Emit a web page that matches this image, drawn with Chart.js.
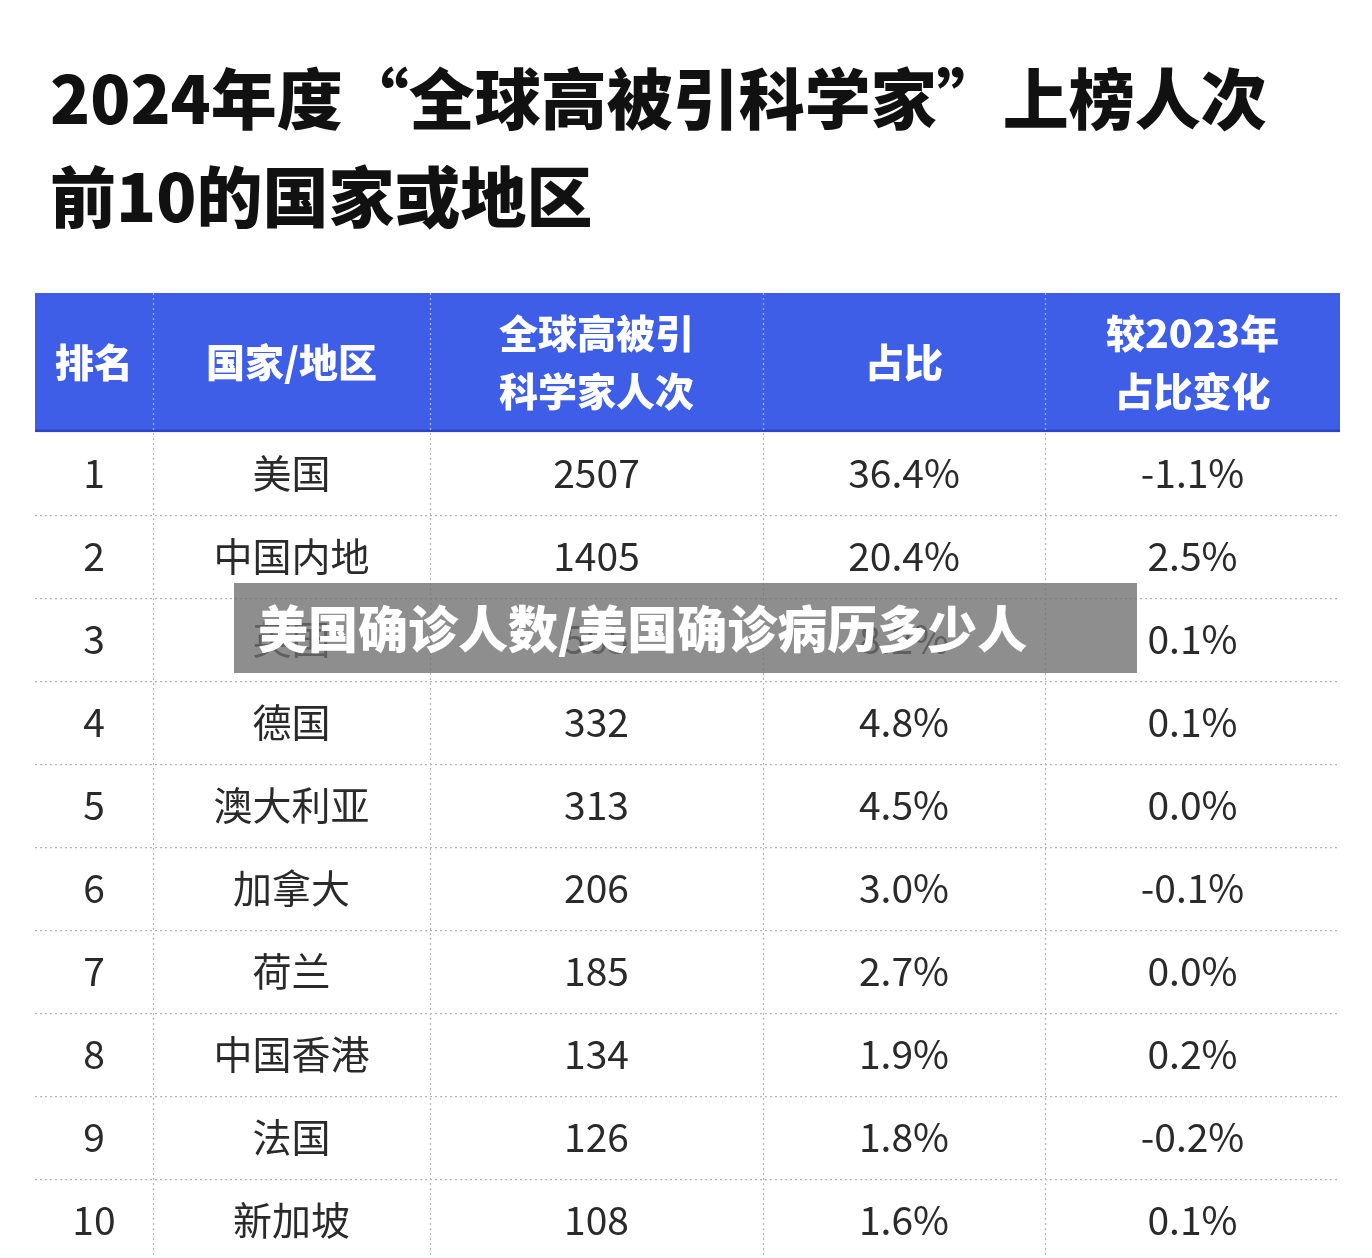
<!DOCTYPE html>
<html>
<head>
<meta charset="utf-8">
<script src="https://cdn.jsdelivr.net/npm/chart.js@4"></script>
<style>
body { margin: 0; background: #fff; width: 1372px; height: 1258px; overflow: hidden; position: relative; font-family: "Noto Sans CJK SC", sans-serif; }
.title { position: absolute; left: 50px; top: 46px; font-size: 66px; font-weight: 900; color: #111; line-height: 98px; letter-spacing: 0px; }
#wrap { position: absolute; left: 35px; top: 293px; width: 1305px; height: 965px; }
.banner { position: absolute; left: 234px; top: 583px; width: 903px; height: 90px; background: rgba(110,110,110,0.78);
  color: #fff; font-size: 50px; font-weight: 900; line-height: 86px; padding-left: 24px; box-sizing: border-box; }
</style>
</head>
<body>
<div class="title">2024年度“全球高被引科学家”上榜人次<br>前10的国家或地区</div>
<div id="wrap"><canvas id="tbl"></canvas></div>
<div class="banner">美国确诊人数/美国确诊病历多少人</div>
<script>
// Table data
const headers = [['排名'], ['国家/地区'], ['全球高被引', '科学家人次'], ['占比'], ['较2023年', '占比变化']];
const ranks = ['1', '2', '3', '4', '5', '6', '7', '8', '9', '10'];
const regions = ['美国', '中国内地', '英国', '德国', '澳大利亚', '加拿大', '荷兰', '中国香港', '法国', '新加坡'];
const counts = [2507, 1405, 565, 332, 313, 206, 185, 134, 126, 108];
const shares = ['36.4%', '20.4%', '8.2%', '4.8%', '4.5%', '3.0%', '2.7%', '1.9%', '1.8%', '1.6%'];
const changes = ['-1.1%', '2.5%', '0.1%', '0.1%', '0.0%', '-0.1%', '0.0%', '0.2%', '-0.2%', '0.1%'];

// Layout (column widths in x-scale units, header height in row units)
const colWidths = [118, 277, 333, 282, 295];
const headerRows = 1.675;

const colEdges = [0];
colWidths.forEach(w => colEdges.push(colEdges[colEdges.length - 1] + w));

const tablePlugin = {
    id: 'tablePlugin',
    afterDraw(chart) {
        const ctx = chart.ctx;
        const xs = chart.scales.x, ys = chart.scales.y;
        const X = v => xs.getPixelForValue(v);
        const Y = v => ys.getPixelForValue(v);
        const columns = [ranks, regions, counts.map(String), shares, changes];
        ctx.save();
        // header
        ctx.fillStyle = '#3f5ee8';
        ctx.fillRect(X(0), Y(-headerRows), X(colEdges[5]) - X(0), Y(0) - Y(-headerRows));
        ctx.fillStyle = '#2c47c4';
        ctx.fillRect(X(0), Y(-0.03), X(colEdges[5]) - X(0), Y(0) - Y(-0.03));
        ctx.textAlign = 'center';
        ctx.textBaseline = 'middle';
        ctx.fillStyle = '#fff';
        ctx.font = '900 39px "Noto Sans CJK SC"';
        headers.forEach((lines, c) => {
            const cx = (X(colEdges[c]) + X(colEdges[c + 1])) / 2;
            const cy = Y(-headerRows / 2);
            lines.forEach((t, i) => ctx.fillText(t, cx, cy + (i - (lines.length - 1) / 2) * 58));
        });
        // dotted grid
        ctx.strokeStyle = '#b5b5b5';
        ctx.lineWidth = 1.2;
        ctx.setLineDash([2, 3]);
        for (let c = 1; c < colEdges.length - 1; c++) {
            ctx.beginPath();
            ctx.moveTo(X(colEdges[c]) + 0.5, Y(-headerRows));
            ctx.lineTo(X(colEdges[c]) + 0.5, Y(ranks.length));
            ctx.stroke();
        }
        for (let r = 1; r < ranks.length; r++) {
            ctx.beginPath();
            ctx.moveTo(X(0), Y(r) + 0.5);
            ctx.lineTo(X(colEdges[5]), Y(r) + 0.5);
            ctx.stroke();
        }
        ctx.setLineDash([]);
        // body cells
        ctx.fillStyle = '#2a2a2a';
        ctx.font = '39px "Noto Sans CJK SC"';
        columns.forEach((col, c) => {
            const cx = (X(colEdges[c]) + X(colEdges[c + 1])) / 2;
            col.forEach((t, r) => ctx.fillText(t, cx, Y(r + 0.5)));
        });
        ctx.restore();
    }
};

new Chart(document.getElementById('tbl'), {
    type: 'scatter',
    data: { datasets: [{ data: [] }] },
    options: {
        responsive: true,
        maintainAspectRatio: false,
        animation: false,
        layout: { padding: 0 },
        plugins: { legend: { display: false }, tooltip: { enabled: false } },
        scales: {
            x: { type: 'linear', min: 0, max: colEdges[5], display: false },
            y: { type: 'linear', min: -headerRows, max: ranks.length - 0.05, reverse: true, display: false }
        }
    },
    plugins: [tablePlugin]
});
</script>
</body>
</html>
